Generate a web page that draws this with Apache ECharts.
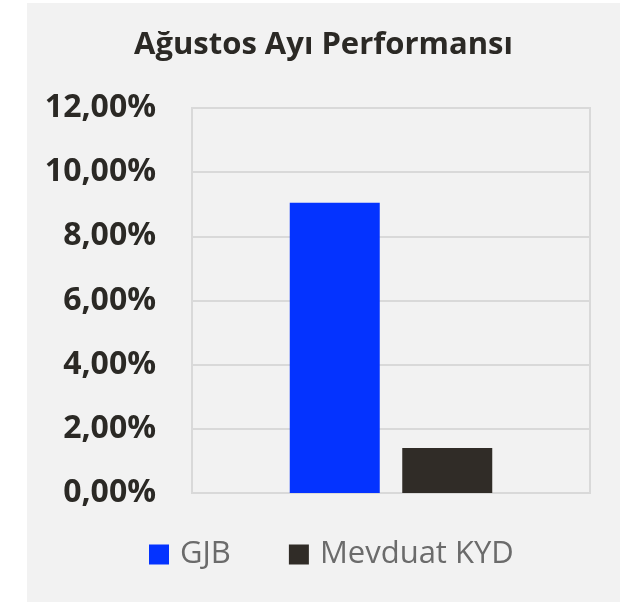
<!DOCTYPE html>
<html>
<head>
<meta charset="utf-8">
<script src="https://cdn.jsdelivr.net/npm/echarts@6/dist/echarts.min.js"></script>
<style>
  html, body { margin: 0; padding: 0; background: #ffffff; }
  #chart { position: absolute; left: 27px; top: 3px; width: 593px; height: 599px; }
</style>
</head>
<body>
<div id="chart"></div>
<script>
// values (percent)
const categories = ['']
const seriesNames = ['GJB', 'Mevduat KYD']
const gjbValues = [9.05]
const mevduatValues = [1.40]
const seriesColors = ['#0433ff', '#302c27']
const yMin = 0
const yMax = 12
const yStep = 2

const fmt = v => v.toFixed(2).replace('.', ',') + '%'

const chart = echarts.init(document.getElementById('chart'))
chart.setOption({
  backgroundColor: '#f2f2f2',
  animation: false,
  textStyle: { fontFamily: 'Open Sans' },
  title: {
    text: 'Ağustos Ayı Performansı',
    left: 'center',
    top: 22,
    textStyle: { fontFamily: 'Open Sans', fontWeight: 'bold', fontSize: 31, color: '#2b2925' }
  },
  legend: {
    left: 117,
    top: 531,
    padding: 5,
    itemWidth: 20,
    itemHeight: 20,
    itemGap: 58,
    icon: 'rect',
    data: seriesNames,
    textStyle: { fontFamily: 'Open Sans', fontSize: 31, color: '#6b6b6b', padding: [0, 0, 0, 6] }
  },
  grid: {
    left: 165,
    right: 30,
    top: 105,
    bottom: 109,
    show: true,
    borderColor: '#d9d9d9',
    borderWidth: 2,
    backgroundColor: 'transparent'
  },
  xAxis: {
    type: 'category',
    data: categories,
    axisLine: { show: false },
    axisTick: { show: false },
    axisLabel: { show: false }
  },
  yAxis: {
    type: 'value',
    min: yMin,
    max: yMax,
    interval: yStep,
    axisLine: { show: false },
    axisTick: { show: false },
    splitLine: { lineStyle: { color: '#d9d9d9', width: 2 } },
    axisLabel: {
      formatter: fmt,
      margin: 36,
      fontFamily: 'Open Sans',
      fontWeight: 'bold',
      fontSize: 32,
      color: '#2b2925'
    }
  },
  series: [
    {
      name: seriesNames[0],
      type: 'bar',
      data: gjbValues,
      barWidth: 90,
      barGap: '25%',
      itemStyle: { color: seriesColors[0] }
    },
    {
      name: seriesNames[1],
      type: 'bar',
      data: mevduatValues,
      barWidth: 90,
      itemStyle: { color: seriesColors[1] }
    }
  ]
})
</script>
</body>
</html>
